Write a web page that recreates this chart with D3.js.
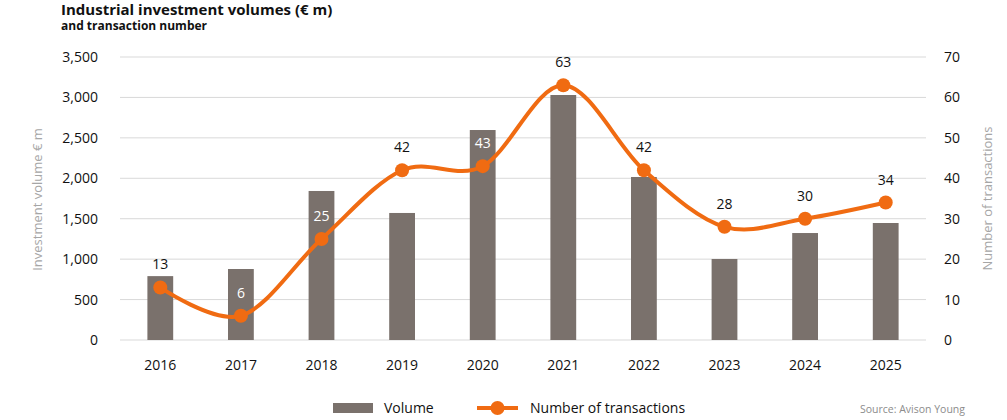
<!DOCTYPE html>
<html>
<head>
<meta charset="utf-8">
<script src="https://cdn.jsdelivr.net/npm/d3@7"></script>
<style>
  body { margin: 0; background: #fff; }
  svg { font-family: "Open Sans", sans-serif; display: block; }
</style>
</head>
<body>
<svg id="chart" width="1007" height="420"></svg>
<script>
const years = ['2016', '2017', '2018', '2019', '2020', '2021', '2022', '2023', '2024', '2025'];
const volumes = [790, 878, 1843, 1571, 2597, 3030, 2016, 1002, 1323, 1447];
const transactions = [13, 6, 25, 42, 43, 63, 42, 28, 30, 34];
const volumeTicks = [0, 500, 1000, 1500, 2000, 2500, 3000, 3500];
const countTicks = [0, 10, 20, 30, 40, 50, 60, 70];
// labels drawn in white because they sit on a bar
const whiteLabels = ['2017', '2018', '2020'];

const barColor = '#7a716c';
const lineColor = '#f06b12';
const gridColor = '#d9d9d9';

const svg = d3.select('#chart');
const margin = { top: 57, right: 81, bottom: 80, left: 120 };
const width = 1007 - margin.left - margin.right;
const height = 420 - margin.top - margin.bottom;

const g = svg.append('g').attr('transform', `translate(${margin.left},${margin.top})`);

const x = d3.scaleBand().domain(years).range([0, width]).paddingInner(0.68).paddingOuter(0.34);
const y = d3.scaleLinear().domain([0, 3500]).range([height, 0]);
const y2 = d3.scaleLinear().domain([0, 70]).range([height, 0]);

// Title
svg.append('text')
  .attr('x', 61).attr('y', 15)
  .attr('font-size', '15px').attr('font-weight', 'bold').attr('fill', '#111')
  .text('Industrial investment volumes (€ m)');
svg.append('text')
  .attr('x', 61).attr('y', 30)
  .attr('font-size', '12px').attr('font-weight', 'bold').attr('fill', '#111')
  .text('and transaction number');

// Gridlines
g.append('g')
  .selectAll('line')
  .data(volumeTicks)
  .join('line')
  .attr('x1', 0).attr('x2', width)
  .attr('y1', d => y(d)).attr('y2', d => y(d))
  .attr('stroke', gridColor).attr('stroke-width', 1);

// Left axis
const leftAxis = g.append('g')
  .call(d3.axisLeft(y).tickValues(volumeTicks).tickFormat(d3.format(',')).tickSize(0).tickPadding(22));
leftAxis.select('.domain').remove();
leftAxis.selectAll('text').attr('font-size', '14px').attr('fill', '#111').attr('font-family', '"Open Sans", sans-serif');

// Right axis
const rightAxis = g.append('g')
  .attr('transform', `translate(${width},0)`)
  .call(d3.axisRight(y2).tickValues(countTicks).tickSize(0).tickPadding(18));
rightAxis.select('.domain').remove();
rightAxis.selectAll('text').attr('font-size', '14px').attr('fill', '#111').attr('font-family', '"Open Sans", sans-serif');

// Bottom axis
const bottomAxis = g.append('g')
  .attr('transform', `translate(0,${height})`)
  .call(d3.axisBottom(x).tickSize(0).tickPadding(20));
bottomAxis.select('.domain').remove();
bottomAxis.selectAll('text').attr('font-size', '14px').attr('fill', '#111').attr('font-family', '"Open Sans", sans-serif');

// Axis titles
svg.append('text')
  .attr('transform', `translate(42,${margin.top + height / 2 + 1}) rotate(-90)`)
  .attr('text-anchor', 'middle')
  .attr('font-size', '13px').attr('fill', '#a6a6a6')
  .text('Investment volume € m');
svg.append('text')
  .attr('transform', `translate(992,${margin.top + height / 2}) rotate(-90)`)
  .attr('text-anchor', 'middle')
  .attr('font-size', '13px').attr('fill', '#a6a6a6')
  .text('Number of transactions');

// Bars
g.append('g')
  .selectAll('rect')
  .data(years)
  .join('rect')
  .attr('x', d => x(d))
  .attr('width', x.bandwidth())
  .attr('y', (d, i) => y(volumes[i]))
  .attr('height', (d, i) => height - y(volumes[i]))
  .attr('fill', barColor);

// Line
const cx = d => x(d) + x.bandwidth() / 2;
const line = d3.line()
  .x(d => cx(d))
  .y((d, i) => y2(transactions[i]))
  .curve(d3.curveCardinal.tension(0));

g.append('path')
  .datum(years)
  .attr('fill', 'none')
  .attr('stroke', lineColor)
  .attr('stroke-width', 4)
  .attr('d', line);

g.append('g')
  .selectAll('circle')
  .data(years)
  .join('circle')
  .attr('cx', d => cx(d))
  .attr('cy', (d, i) => y2(transactions[i]))
  .attr('r', 7)
  .attr('fill', lineColor);

// Data labels
g.append('g')
  .selectAll('text')
  .data(years)
  .join('text')
  .attr('x', d => cx(d))
  .attr('y', (d, i) => y2(transactions[i]) - 18)
  .attr('text-anchor', 'middle')
  .attr('font-size', '14px')
  .attr('fill', d => whiteLabels.includes(d) ? '#fff' : '#111')
  .text((d, i) => transactions[i]);

// Legend
const legend = svg.append('g').attr('transform', 'translate(0,408)');
legend.append('rect')
  .attr('x', 333).attr('y', -5).attr('width', 40).attr('height', 10)
  .attr('fill', barColor);
legend.append('text')
  .attr('x', 384).attr('y', 5)
  .attr('font-size', '14px').attr('fill', '#111')
  .text('Volume');
legend.append('line')
  .attr('x1', 477).attr('x2', 518).attr('y1', 0).attr('y2', 0)
  .attr('stroke', lineColor).attr('stroke-width', 4);
legend.append('circle')
  .attr('cx', 497.5).attr('cy', 0).attr('r', 7)
  .attr('fill', lineColor);
legend.append('text')
  .attr('x', 530).attr('y', 5)
  .attr('font-size', '14px').attr('fill', '#111')
  .text('Number of transactions');

// Source
svg.append('text')
  .attr('x', 965).attr('y', 413)
  .attr('text-anchor', 'end')
  .attr('font-size', '10.5px').attr('fill', '#8c8c8c')
  .text('Source: Avison Young');
</script>
</body>
</html>
